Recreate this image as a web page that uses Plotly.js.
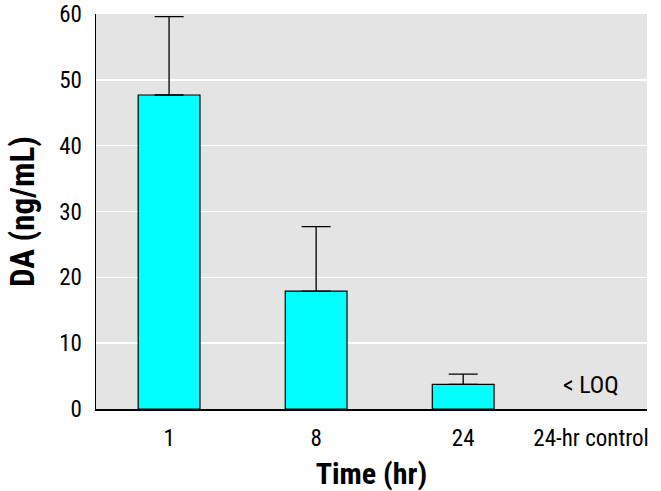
<!DOCTYPE html>
<html>
<head>
<meta charset="utf-8">
<script src="https://cdn.plot.ly/plotly-3.0.1.min.js"></script>
<style>html,body{margin:0;padding:0;background:#fff;}#chart{width:661px;height:491px;}</style>
</head>
<body>
<div id="chart"></div>
<script>
// Data
const categories = ['1', '8', '24', '24-hr control'];
const meanDA = [47.7, 17.9, 3.75, null];      // ng/mL
const errUpper = [11.9, 9.8, 1.55, null];      // upper SD
const controlNote = '< LOQ';
const yTickVals = [0, 10, 20, 30, 40, 50, 60];

const FONT = 'Liberation Sans Narrow, Arial Narrow, Roboto Condensed, sans-serif';
const xPos = categories.map((c, i) => i);
// last label is drawn a little left of its slot so it stays inside the figure
const labelPos = xPos.map((p, i) => i === categories.length - 1 ? p - 0.13 : p);

const trace = {
  type: 'bar',
  x: xPos,
  y: meanDA,
  width: 0.42,
  marker: {color: '#00ffff', line: {color: '#000', width: 1.2}},
  error_y: {
    type: 'data', symmetric: false,
    array: errUpper, arrayminus: errUpper.map(v => 0),
    color: '#000', thickness: 1.3, width: 14.5
  },
  hoverinfo: 'skip'
};

const layout = {
  width: 661, height: 491,
  margin: {l: 96, r: 14, t: 14, b: 82},
  paper_bgcolor: '#fff',
  plot_bgcolor: '#e4e4e4',
  showlegend: false,
  font: {family: FONT, color: '#000', size: 22},
  xaxis: {
    range: [-0.497, 3.25],
    tickmode: 'array', tickvals: labelPos, ticktext: categories,
    showgrid: false, zeroline: false,
    showline: true, linecolor: '#000', linewidth: 1.5,
    ticks: 'outside', ticklen: 8, tickcolor: 'rgba(0,0,0,0)',
    tickfont: {family: FONT, size: 23},
    title: {text: 'Time (hr)', font: {family: FONT, size: 30, weight: 'bold'}, standoff: 12}
  },
  yaxis: {
    range: [0, 60],
    tickmode: 'array', tickvals: yTickVals,
    showgrid: true, gridcolor: '#ffffff', gridwidth: 1.5,
    zeroline: false,
    showline: true, linecolor: '#000', linewidth: 1.5,
    ticks: 'outside', ticklen: 8, tickcolor: 'rgba(0,0,0,0)',
    tickfont: {family: FONT, size: 23},
    title: {text: 'DA (ng/mL)', font: {family: FONT, size: 33, weight: 'bold'}, standoff: 14}
  },
  annotations: [{
    x: labelPos[3], y: 0, xref: 'x', yref: 'y',
    text: controlNote, showarrow: false,
    yanchor: 'bottom', yshift: 8,
    font: {family: FONT, size: 24, color: '#000'}
  }]
};

Plotly.newPlot('chart', [trace], layout, {displayModeBar: false, staticPlot: true});
</script>
</body>
</html>
